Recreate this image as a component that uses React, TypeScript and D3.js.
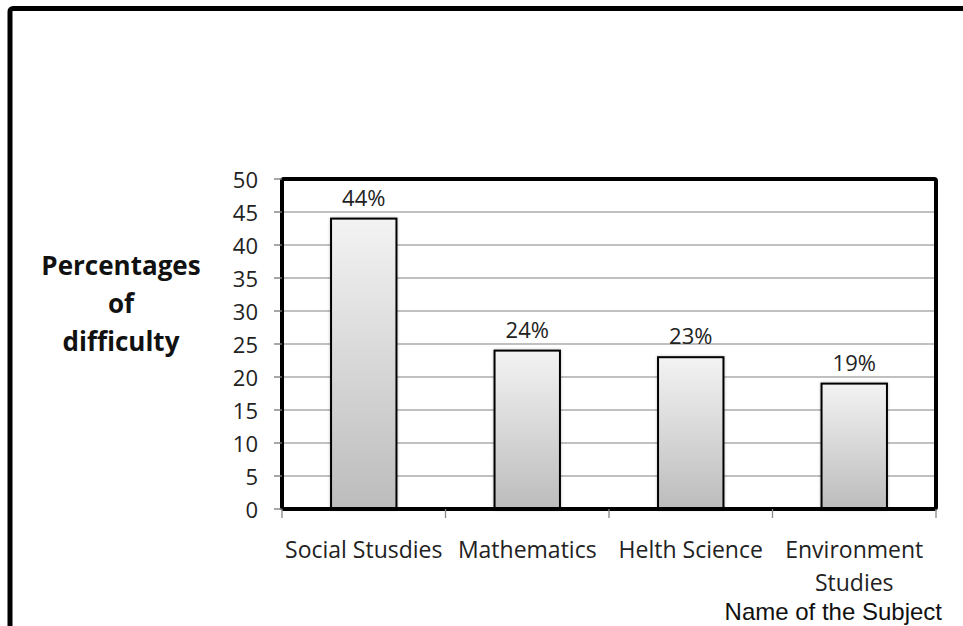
import React from "react";
import * as d3 from "d3";

// Subjects and the share of students reporting difficulty in each
const subjects: string[][] = [
  ["Social Stusdies"],
  ["Mathematics"],
  ["Helth Science"],
  ["Environment", "Studies"],
];
const difficulty: number[] = [44, 24, 23, 19];
const valueLabels: string[] = ["44%", "24%", "23%", "19%"];
const yTicks: number[] = [0, 5, 10, 15, 20, 25, 30, 35, 40, 45, 50];
const yTitleLines: string[] = ["Percentages", "of", "difficulty"];
const xTitle = "Name of the Subject";

const W = 963;
const H = 626;
const plot = { left: 282, right: 936, top: 179, bottom: 509 };

export default function App() {
  const keys = subjects.map((s) => s.join(" "));
  const y = d3.scaleLinear().domain([0, 50]).range([plot.bottom, plot.top]);
  const xCat = d3.scaleBand<string>().domain(keys).range([plot.left, plot.right]).padding(0);
  const xBar = d3
    .scaleBand<string>()
    .domain(keys)
    .range([plot.left, plot.right])
    .paddingInner(0.6)
    .paddingOuter(0.3);

  const font = "'Open Sans', sans-serif";
  const boundaries = [...keys.map((k) => xCat(k)!), plot.right];

  return (
    <svg
      width={W}
      height={H}
      viewBox={`0 0 ${W} ${H}`}
      style={{ position: "absolute", left: 0, top: 0, background: "#fff" }}
    >
      <defs>
        <linearGradient id="barFill" x1="0" y1="0" x2="0" y2="1">
          <stop offset="0%" stopColor="#f3f3f3" />
          <stop offset="100%" stopColor="#bcbcbc" />
        </linearGradient>
        <filter id="barShadow" x="-20%" y="-20%" width="140%" height="140%">
          <feGaussianBlur in="SourceAlpha" stdDeviation="1.5" />
          <feComponentTransfer>
            <feFuncA type="linear" slope="0.25" />
          </feComponentTransfer>
          <feMerge>
            <feMergeNode />
            <feMergeNode in="SourceGraphic" />
          </feMerge>
        </filter>
      </defs>

      {/* outer frame */}
      <rect x={10} y={8.5} width={1000} height={1000} rx={3} fill="none" stroke="#000" strokeWidth={5} />

      {/* gridlines */}
      {yTicks.filter((t) => t > 0 && t < 50).map((t) => (
        <line key={t} x1={plot.left} x2={plot.right} y1={y(t)} y2={y(t)} stroke="#ababab" strokeWidth={1.3} />
      ))}

      {/* bars */}
      {keys.map((k, i) => (
        <rect
          key={k}
          x={xBar(k)}
          y={y(difficulty[i])}
          width={xBar.bandwidth()}
          height={y(0) - y(difficulty[i])}
          fill="url(#barFill)"
          stroke="#000"
          strokeWidth={2}
          filter="url(#barShadow)"
        />
      ))}

      {/* value labels */}
      {keys.map((k, i) => (
        <text
          key={k}
          x={xBar(k)! + xBar.bandwidth() / 2}
          y={y(difficulty[i]) - 13}
          textAnchor="middle"
          fontFamily={font}
          fontSize={22}
          fill="#222"
        >
          {valueLabels[i]}
        </text>
      ))}

      {/* plot frame */}
      <rect
        x={plot.left}
        y={plot.top}
        width={plot.right - plot.left}
        height={plot.bottom - plot.top}
        rx={2}
        fill="none"
        stroke="#000"
        strokeWidth={4}
      />

      {/* y axis ticks and labels */}
      {yTicks.map((t) => (
        <g key={t}>
          <line x1={plot.left - 8} x2={plot.left} y1={y(t)} y2={y(t)} stroke="#777" strokeWidth={1.3} />
          <text
            x={258}
            y={y(t)}
            textAnchor="end"
            dominantBaseline="central"
            fontFamily={font}
            fontSize={22}
            fill="#222"
          >
            {t}
          </text>
        </g>
      ))}

      {/* x axis ticks at category boundaries */}
      {boundaries.map((bx, i) => (
        <line key={i} x1={bx} x2={bx} y1={plot.bottom} y2={plot.bottom + 9} stroke="#888" strokeWidth={1.3} />
      ))}

      {/* category labels */}
      {keys.map((k, i) => (
        <text
          key={k}
          x={xCat(k)! + xCat.bandwidth() / 2}
          y={558}
          textAnchor="middle"
          fontFamily={font}
          fontSize={23}
          fill="#222"
        >
          {subjects[i].map((line, j) => (
            <tspan key={j} x={xCat(k)! + xCat.bandwidth() / 2} dy={j === 0 ? 0 : 33}>
              {line}
            </tspan>
          ))}
        </text>
      ))}

      {/* y axis title */}
      <text x={121} y={275} textAnchor="middle" fontFamily={font} fontSize={26} fontWeight="bold" fill="#111">
        {yTitleLines.map((line, j) => (
          <tspan key={j} x={121} dy={j === 0 ? 0 : 38}>
            {line}
          </tspan>
        ))}
      </text>

      {/* x axis title */}
      <text
        x={942}
        y={620}
        textAnchor="end"
        fontFamily="'Liberation Sans', Arial, sans-serif"
        fontSize={24}
        fill="#111"
      >
        {xTitle}
      </text>
    </svg>
  );
}
